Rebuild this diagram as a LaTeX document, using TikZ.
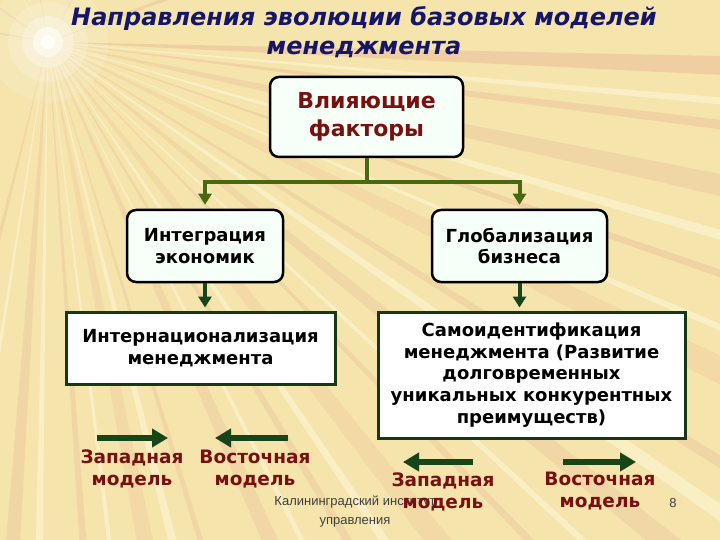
\documentclass[tikz,border=0pt]{standalone}
\usepackage{fontspec}
\setmainfont{DejaVu Sans}
\newfontfamily\footfont{Liberation Sans}
\usepackage{tikz}
\usetikzlibrary{arrows.meta,positioning,calc}

\definecolor{paper}{RGB}{245,228,172}
\definecolor{raypink}{RGB}{226,158,138}
\definecolor{raylight}{RGB}{255,248,222}
\definecolor{titleblue}{RGB}{22,22,105}
\definecolor{factred}{RGB}{120,16,16}
\definecolor{treegreen}{RGB}{72,104,18}
\definecolor{boxgreen}{RGB}{22,56,22}
\definecolor{arrowgreen}{RGB}{24,68,26}
\definecolor{boxfill}{RGB}{246,255,248}

\begin{document}
\begin{tikzpicture}[
    x=1pt, y=-1pt,
    rbox/.style={rectangle, rounded corners=9pt, draw=black, line width=2.5pt, fill=boxfill, align=center, inner sep=0pt, font=\fontsize{18}{21.5}\selectfont\bfseries},
    sbox/.style={rectangle, draw=boxgreen, line width=3pt, fill=white, align=center, inner sep=0pt, font=\fontsize{18}{21.7}\selectfont\bfseries},
    tree/.style={draw=treegreen, line width=4pt},
    arrow/.style={-{Triangle[width=13pt,length=11pt]}, line width=4pt},
    modelarrow/.style={-{Triangle[width=18pt,length=16pt]}, draw=arrowgreen, line width=6pt},
    model/.style={text=factred, align=center, font=\fontsize{18.5}{22}\selectfont\bfseries}
]
    \useasboundingbox (0,0) rectangle (720,540);

    % background with the light burst
    \fill[paper] (0,0) rectangle (720,540);
    \coordinate (glow) at (48,42);
    \begin{scope}
        \clip (0,0) rectangle (720,540);
        \foreach \ang/\wid/\op in {2/.8/.3, 7/.4/.25, 12/.9/.2, 19/.3/.25, 26/1/.15, 32/.4/.2, 39/.8/.18,
                                   46/.3/.2, 52/1/.15, 59/.4/.2, 66/.8/.18, 73/.3/.2, 79/.9/.15, 86/.4/.2,
                                   94/.8/.2, 104/.5/.2, 190/1/.25, 215/.8/.2, 260/.8/.2, 300/.8/.15, 340/.8/.25}
            \fill[raypink, opacity=\op] (glow) -- ($(glow)+(\ang-\wid:1000)$) -- ($(glow)+(\ang+\wid:1000)$) -- cycle;
        \foreach \ang/\wid in {5/.3, 16/.4, 23/.25, 35/.5, 43/.25, 56/.4, 63/.25, 76/.45, 83/.25, 91/.4, 99/.3, 240/.4}
            \fill[raylight, opacity=.5] (glow) -- ($(glow)+(\ang-\wid:1000)$) -- ($(glow)+(\ang+\wid:1000)$) -- cycle;
        \foreach \r/\o in {60/.12, 40/.2, 26/.3, 15/.5, 7/.8}
            \fill[white, opacity=\o] (glow) circle (\r);
    \end{scope}

    % title
    \node (title) at (364,32) [font=\fontsize{24}{29}\selectfont\bfseries\itshape, text=titleblue, align=center]
        {Направления эволюции базовых моделей\\менеджмента};

    % boxes
    \node (factors) at (366.5,117) [rbox, minimum width=193pt, minimum height=80pt, text=factred, font=\fontsize{22}{28}\selectfont\bfseries]
        {Влияющие\\факторы};
    \node (integr) at (205,246) [rbox, minimum width=156pt, minimum height=72pt] {Интеграция\\экономик};
    \node (glob) at (519.5,246) [rbox, minimum width=175pt, minimum height=72pt] {Глобализация\\бизнеса};
    \node (intern) at (200.5,348) [sbox, minimum width=269pt, minimum height=72pt] {Интернационализация\\менеджмента};
    \node (selfid) at (531.5,375) [sbox, minimum width=307pt, minimum height=126pt]
        {Самоидентификация\\менеджмента (Развитие\\долговременных\\уникальных конкурентных\\преимуществ)};

    % tree connectors
    \coordinate (fork) at (366.5,182);
    \draw[tree] (factors) -- (fork);
    \draw[tree, arrow, shorten >=4pt] (fork) -| (integr);
    \draw[tree, arrow, shorten >=4pt] (fork) -| (glob);
    \draw[arrow, draw=arrowgreen, shorten >=3pt] (integr) -- (integr |- intern.north);
    \draw[arrow, draw=arrowgreen, shorten >=3pt] (glob) -- (glob |- selfid.north);

    % footer
    \node (footer) at (355,512) [font=\footfont\fontsize{13}{19}\selectfont, text=black!75, align=center]
        {Калининградский институт\\управления};
    \node (page) at (673,503) [font=\footfont\fontsize{13}{15}\selectfont, text=black!75] {8};

    % models
    \node (west1) at (132,469) [model] {Западная\\модель};
    \node (east1) at (255,469) [model] {Восточная\\модель};
    \node (west2) at (443,491.5) [model] {Западная\\модель};
    \node (east2) at (600,491.5) [model] {Восточная\\модель};

    \coordinate (w1a) at (97,438);
    \coordinate (w1b) at (168,438);
    \coordinate (e1a) at (288,438);
    \coordinate (e1b) at (215,438);
    \coordinate (w2a) at (473,462);
    \coordinate (w2b) at (403,462);
    \coordinate (e2a) at (563,462);
    \coordinate (e2b) at (636,462);
    \draw[modelarrow] (w1a) -- (w1b);
    \draw[modelarrow] (e1a) -- (e1b);
    \draw[modelarrow] (w2a) -- (w2b);
    \draw[modelarrow] (e2a) -- (e2b);
\end{tikzpicture}
\end{document}
